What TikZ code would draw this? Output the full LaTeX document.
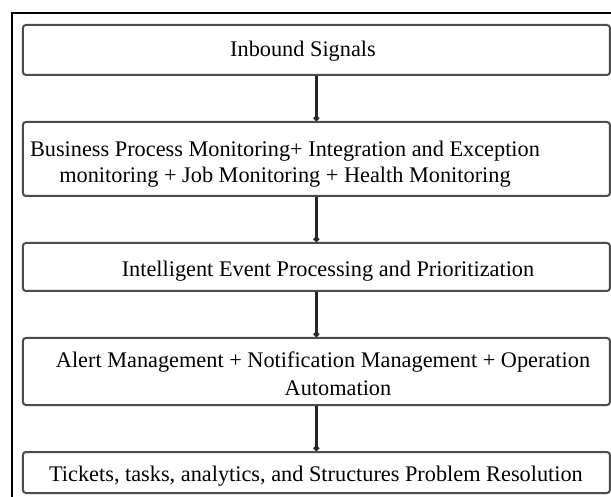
\documentclass[tikz,border=0pt]{standalone}
\usepackage{fontspec}
\setmainfont{Liberation Serif}
\usetikzlibrary{arrows.meta}
\begin{document}
\begin{tikzpicture}[x=1pt,y=-1pt,
  stagebox/.style={draw=black!70, line width=2pt, rounded corners=3pt,
    minimum width=587pt, inner sep=0pt},
  stagetext/.style={font=\fontsize{22.3}{26}\selectfont, align=center, inner sep=0pt},
  flow/.style={draw=black!85, line width=2.2pt, -{Circle[length=5.5pt]}}]
  \useasboundingbox (0,0) rectangle (611,497);
  \clip (0,0) rectangle (611,497);
  \fill[white] (0,0) rectangle (611,497);
  % outer frame
  \draw[line width=1.4pt] (12,13) rectangle (640,530);

  % stage boxes
  \node[stagebox, minimum height=50pt] (b1) at (316.4,50) {};
  \node[stagebox, minimum height=74pt] (b2) at (316.4,159) {};
  \node[stagebox, minimum height=48pt] (b3) at (316.4,267) {};
  \node[stagebox, minimum height=67pt] (b4) at (316.4,371.5) {};
  \node[stagebox, minimum height=41pt] (b5) at (316.4,472.5) {};

  % labels
  \node[stagetext] (t1) at (303,51) {Inbound Signals};
  \node[stagetext] (t2) at (285,164) {Business Process Monitoring+ Integration and Exception\\monitoring + Job Monitoring + Health Monitoring};
  \node[stagetext] (t3) at (328,271) {Intelligent Event Processing and Prioritization};
  \node[stagetext] (t4a) at (323,362) {Alert Management + Notification Management + Operation};
  \node[stagetext] (t4b) at (338,388) {Automation};
  \node[stagetext] (t5) at (316,476) {Tickets, tasks, analytics, and Structures Problem Resolution};

  % connectors
  \draw[flow] (b1.south) -- (b2.north);
  \draw[flow] (b2.south) -- (b3.north);
  \draw[flow] (b3.south) -- (b4.north);
  \draw[flow] (b4.south) -- (b5.north);
\end{tikzpicture}
\end{document}
